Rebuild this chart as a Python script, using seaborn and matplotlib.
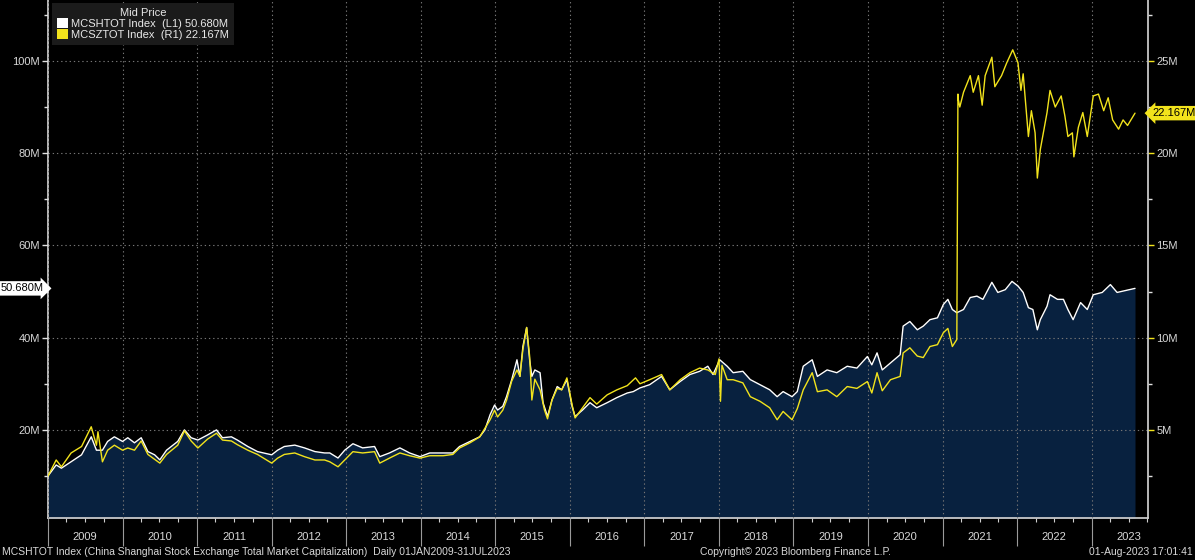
import matplotlib

matplotlib.use("Agg")
import matplotlib.pyplot as plt
import matplotlib.dates as mdates
from matplotlib.patches import Patch
from matplotlib.ticker import MultipleLocator, FuncFormatter, NullFormatter
import numpy as np
import pandas as pd
import seaborn as sns

# Shanghai total market cap (left axis, millions) - decimal year / value
sh_t = [2009.00, 2009.11, 2009.18, 2009.31, 2009.45, 2009.58, 2009.65, 2009.73, 2009.80, 2009.89,
        2010.00, 2010.07, 2010.16, 2010.25, 2010.34, 2010.43, 2010.50, 2010.59, 2010.74, 2010.83,
        2010.92, 2011.01, 2011.14, 2011.26, 2011.34, 2011.46, 2011.54, 2011.68, 2011.81, 2012.00,
        2012.08, 2012.17, 2012.31, 2012.44, 2012.58, 2012.71, 2012.78, 2012.89, 2012.98, 2013.09,
        2013.22, 2013.38, 2013.45, 2013.58, 2013.72, 2013.85, 2013.99, 2014.12, 2014.30, 2014.43,
        2014.52, 2014.66, 2014.79, 2014.86, 2014.93, 2014.99, 2015.03, 2015.10, 2015.15, 2015.22,
        2015.29, 2015.33, 2015.37, 2015.42, 2015.46, 2015.49, 2015.53, 2015.60, 2015.64, 2015.70,
        2015.76, 2015.83, 2015.89, 2015.96, 2016.03, 2016.07, 2016.17, 2016.27, 2016.36, 2016.50,
        2016.63, 2016.77, 2016.85, 2016.94, 2017.07, 2017.23, 2017.34, 2017.48, 2017.61, 2017.74,
        2017.85, 2017.92, 2018.01, 2018.11, 2018.19, 2018.32, 2018.42, 2018.55, 2018.68, 2018.78,
        2018.86, 2018.98, 2019.05, 2019.13, 2019.25, 2019.32, 2019.45, 2019.58, 2019.72, 2019.85,
        2019.99, 2020.05, 2020.12, 2020.19, 2020.30, 2020.43, 2020.47, 2020.56, 2020.66, 2020.74,
        2020.83, 2020.93, 2021.01, 2021.07, 2021.13, 2021.19, 2021.28, 2021.37, 2021.46, 2021.54,
        2021.66, 2021.74, 2021.84, 2021.93, 2022.01, 2022.08, 2022.15, 2022.21, 2022.27, 2022.31,
        2022.40, 2022.44, 2022.54, 2022.62, 2022.68, 2022.75, 2022.85, 2022.94, 2023.02, 2023.14,
        2023.25, 2023.34, 2023.42, 2023.58]
sh_val = [10.0, 12.4, 11.7, 13.1, 14.6, 18.5, 15.6, 15.6, 17.5, 18.5,
          17.5, 18.3, 17.2, 18.3, 15.3, 14.6, 13.5, 15.6, 17.5, 20.0,
          18.3, 17.8, 18.9, 20.0, 18.3, 18.5, 17.8, 16.4, 15.3, 14.6,
          15.6, 16.4, 16.7, 16.1, 15.3, 15.0, 15.0, 13.9, 15.6, 17.0,
          16.1, 16.4, 14.2, 15.0, 16.1, 15.0, 14.2, 15.0, 15.0, 15.0,
          16.4, 17.5, 18.5, 20.0, 23.3, 25.4, 24.3, 25.1, 27.2, 30.9,
          35.2, 31.6, 38.1, 42.2, 35.2, 31.6, 33.0, 32.4, 25.9, 22.9,
          26.5, 29.4, 28.7, 30.9, 25.1, 22.9, 24.3, 25.9, 24.8, 25.9,
          27.0, 28.0, 28.3, 29.1, 29.8, 31.6, 28.7, 30.5, 32.0, 32.7,
          33.8, 32.0, 35.2, 33.8, 32.4, 32.7, 30.9, 29.8, 28.7, 27.2,
          28.3, 27.2, 28.3, 33.8, 35.2, 31.6, 33.0, 32.4, 33.8, 33.4,
          35.9, 34.1, 36.7, 33.0, 34.5, 36.3, 42.5, 43.5, 41.7, 42.5,
          43.9, 44.3, 47.2, 48.3, 46.1, 45.4, 46.1, 48.7, 49.0, 48.3,
          52.0, 49.8, 50.4, 52.2, 51.2, 49.8, 46.5, 46.1, 41.7, 43.9,
          46.8, 49.3, 48.3, 48.3, 46.1, 43.9, 47.6, 46.1, 49.3, 49.8,
          51.5, 49.8, 50.1, 50.68]

# Shenzhen total market cap (right axis, millions)
sz_t = [2009.00, 2009.11, 2009.18, 2009.31, 2009.45, 2009.58, 2009.65, 2009.67, 2009.73, 2009.80,
        2009.89, 2010.00, 2010.07, 2010.16, 2010.25, 2010.34, 2010.50, 2010.59, 2010.74, 2010.83,
        2010.92, 2011.01, 2011.14, 2011.26, 2011.34, 2011.46, 2011.54, 2011.68, 2011.81, 2012.00,
        2012.08, 2012.17, 2012.31, 2012.44, 2012.58, 2012.71, 2012.78, 2012.89, 2013.09, 2013.22,
        2013.38, 2013.45, 2013.58, 2013.72, 2013.85, 2013.99, 2014.12, 2014.30, 2014.43, 2014.52,
        2014.66, 2014.79, 2014.93, 2014.99, 2015.03, 2015.10, 2015.15, 2015.22, 2015.29, 2015.33,
        2015.37, 2015.42, 2015.46, 2015.49, 2015.53, 2015.60, 2015.66, 2015.70, 2015.76, 2015.83,
        2015.89, 2015.96, 2016.03, 2016.07, 2016.17, 2016.27, 2016.36, 2016.50, 2016.63, 2016.77,
        2016.88, 2016.94, 2017.07, 2017.23, 2017.34, 2017.48, 2017.61, 2017.74, 2017.85, 2017.95,
        2018.00, 2018.02, 2018.04, 2018.11, 2018.19, 2018.32, 2018.42, 2018.55, 2018.68, 2018.78,
        2018.86, 2018.98, 2019.05, 2019.13, 2019.25, 2019.32, 2019.45, 2019.58, 2019.72, 2019.85,
        2019.99, 2020.05, 2020.12, 2020.19, 2020.30, 2020.43, 2020.47, 2020.56, 2020.66, 2020.74,
        2020.83, 2020.93, 2021.01, 2021.07, 2021.13, 2021.19, 2021.205, 2021.21, 2021.23, 2021.28,
        2021.37, 2021.41, 2021.48, 2021.53, 2021.57, 2021.66, 2021.70, 2021.79, 2021.86, 2021.94,
        2022.01, 2022.05, 2022.08, 2022.15, 2022.19, 2022.24, 2022.27, 2022.31, 2022.40, 2022.44,
        2022.51, 2022.59, 2022.64, 2022.68, 2022.74, 2022.76, 2022.82, 2022.88, 2022.94, 2023.02,
        2023.09, 2023.16, 2023.22, 2023.28, 2023.36, 2023.42, 2023.48, 2023.58]
sz_val = [2.50, 3.37, 3.00, 3.75, 4.10, 5.17, 4.17, 4.90, 3.27, 3.90,
          4.17, 3.90, 4.02, 3.90, 4.40, 3.67, 3.20, 3.67, 4.17, 4.95,
          4.40, 4.02, 4.50, 4.82, 4.45, 4.40, 4.20, 3.90, 3.67, 3.20,
          3.47, 3.67, 3.75, 3.55, 3.37, 3.37, 3.27, 3.00, 3.82, 3.75,
          3.82, 3.20, 3.47, 3.75, 3.60, 3.47, 3.60, 3.60, 3.67, 4.02,
          4.30, 4.62, 5.55, 6.07, 5.70, 6.07, 6.60, 7.65, 8.25, 7.90,
          9.37, 10.55, 9.00, 6.62, 7.75, 7.17, 6.07, 5.60, 6.62, 7.25,
          7.17, 7.82, 6.35, 5.65, 6.20, 6.75, 6.40, 6.90, 7.17, 7.40,
          7.82, 7.50, 7.72, 8.00, 7.17, 7.72, 8.10, 8.35, 8.25, 8.00,
          8.85, 6.55, 8.50, 7.72, 7.72, 7.55, 6.80, 6.55, 6.20, 5.55,
          6.00, 5.55, 6.15, 7.17, 8.10, 7.07, 7.17, 6.80, 7.35, 7.25,
          7.62, 7.00, 8.10, 7.12, 7.72, 7.90, 9.17, 9.45, 9.00, 8.92,
          9.52, 9.62, 10.27, 10.50, 9.52, 9.90, 23.20, 22.90, 22.50, 23.30,
          24.20, 23.30, 24.20, 22.60, 24.20, 25.20, 23.60, 24.20, 24.90, 25.60,
          24.90, 23.40, 24.30, 20.90, 22.30, 21.10, 18.65, 20.20, 22.20, 23.40,
          22.50, 23.10, 22.00, 20.90, 21.10, 19.80, 21.40, 22.20, 20.90, 23.10,
          23.20, 22.30, 23.00, 21.80, 21.30, 21.80, 21.50, 22.167]

left_ticks = [20, 40, 60, 80, 100]
right_ticks = [5, 10, 15, 20, 25]
years = list(range(2009, 2024))

BG = "black"
FILL = "#08213f"
YELLOW = "#f2e31c"
TXT = "#d8d8d8"
GRID = "#767676"


def to_dates(t):
    t = np.asarray(t, dtype=float)
    return pd.Timestamp("2009-01-01") + pd.to_timedelta((t - 2009.0) * 365.25, unit="D")


sns.set_theme(style="ticks")
plt.rcParams["font.family"] = ["Liberation Sans", "DejaVu Sans"]

sh = pd.DataFrame({"date": to_dates(sh_t), "value": sh_val})
sz = pd.DataFrame({"date": to_dates(sz_t), "value": sz_val})

fig, ax = plt.subplots(figsize=(11.95, 5.6), dpi=100)
fig.patch.set_facecolor(BG)
ax.set_facecolor(BG)
fig.subplots_adjust(left=48 / 1195, right=1148 / 1195, bottom=42 / 560, top=1.0)

ax.fill_between(sh["date"], 0, sh["value"], color=FILL, linewidth=0, zorder=1)
sns.lineplot(data=sh, x="date", y="value", ax=ax, color="white", linewidth=1.0, zorder=3)

ax2 = ax.twinx()
sns.lineplot(data=sz, x="date", y="value", ax=ax2, color=YELLOW, linewidth=1.0)

ax.set_xlim(pd.Timestamp("2009-01-01"), pd.Timestamp("2023-10-04"))
ax.set_ylim(0.9, 113.2)
ax2.set_ylim(0.9 / 4, 113.2 / 4)

for a in (ax, ax2):
    a.set_xlabel("")
    a.set_ylabel("")
    for s in a.spines.values():
        s.set_visible(False)

ax.spines["left"].set_visible(True)
ax.spines["left"].set_color("#cfcfcf")
ax.spines["bottom"].set_visible(True)
ax.spines["bottom"].set_color("#cfcfcf")
ax2.spines["right"].set_visible(True)
ax2.spines["right"].set_color("#cfcfcf")

# y axes
ax.set_yticks(left_ticks)
ax.yaxis.set_minor_locator(MultipleLocator(10))
ax.yaxis.set_major_formatter(FuncFormatter(lambda v, p: f"{v:.0f}M"))
ax.tick_params(axis="y", which="major", colors="#e0e0e0", labelcolor=TXT, labelsize=8,
               length=4, width=1, direction="out", pad=2)
ax.tick_params(axis="y", which="minor", colors="#e0e0e0", length=3, width=1)
ax2.set_yticks(right_ticks)
ax2.yaxis.set_minor_locator(MultipleLocator(2.5))
ax2.yaxis.set_major_formatter(FuncFormatter(lambda v, p: f"{v:.0f}M"))
ax2.tick_params(axis="y", which="major", colors=YELLOW, labelcolor=TXT, labelsize=8,
                length=4, width=1, direction="out", pad=2)
ax2.tick_params(axis="y", which="minor", colors="#e0e0e0", length=3, width=1)

# x axis: long year separators, quarterly small ticks, year names mid-year
ax.xaxis.set_major_locator(mdates.YearLocator())
ax.xaxis.set_minor_locator(mdates.MonthLocator(bymonth=[4, 7, 10]))
ax.xaxis.set_major_formatter(NullFormatter())
ax.xaxis.set_minor_formatter(NullFormatter())
ax.tick_params(axis="x", which="major", colors="#9a9a9a", length=20, width=0.8)
ax.tick_params(axis="x", which="minor", colors="#cfcfcf", length=3, width=0.8)
xt = ax.get_xaxis_transform()
for y in years:
    ax.text(pd.Timestamp(f"{y}-07-01"), -0.037, str(y), transform=xt, ha="center", va="center",
            color=TXT, fontsize=8)

ax.grid(True, which="major", axis="both", color=GRID, linestyle=(0, (1.2, 2.6)), linewidth=0.8)
ax.set_axisbelow(False)

# last value tags
ax.text(-0.004, sh_val[-1], f"{sh_val[-1]:.3f}M", transform=ax.get_yaxis_transform(),
        ha="right", va="center", fontsize=8, color="black",
        bbox=dict(boxstyle="rarrow,pad=0.2", fc="white", ec="none"))
ax2.text(1.004, sz_val[-1], f"{sz_val[-1]:.3f}M", transform=ax2.get_yaxis_transform(),
         ha="left", va="center", fontsize=8, color="black",
         bbox=dict(boxstyle="larrow,pad=0.2", fc=YELLOW, ec="none"))

handles = [Patch(facecolor="white", edgecolor="none"), Patch(facecolor=YELLOW, edgecolor="none")]
labels = [f"MCSHTOT Index  (L1) {sh_val[-1]:.3f}M", f"MCSZTOT Index  (R1) {sz_val[-1]:.3f}M"]
leg = ax2.legend(handles, labels, title="Mid Price", loc="upper left", bbox_to_anchor=(0.0035, 0.995),
                 frameon=True, fancybox=False, facecolor="#1b1b1b", edgecolor="none", framealpha=1,
                 fontsize=8, title_fontsize=8, labelcolor="#e8e8e8", handlelength=1.0,
                 handleheight=1.0, handletextpad=0.3, borderpad=0.45, labelspacing=0.05,
                 borderaxespad=0)
leg.get_title().set_color("#e8e8e8")

fig.text(2 / 1195, 8 / 560, "MCSHTOT Index (China Shanghai Stock Exchange Total Market Capitalization)  "
         "Daily 01JAN2009-31JUL2023", color=TXT, fontsize=7.5, va="center", ha="left")
fig.text(700 / 1195, 8 / 560, "Copyright\u00a9 2023 Bloomberg Finance L.P.", color=TXT, fontsize=7.5,
         va="center", ha="left")
fig.text(1193 / 1195, 8 / 560, "01-Aug-2023 17:01:41", color=TXT, fontsize=7.5, va="center", ha="right")

fig.savefig("out.png", dpi=100, facecolor=BG)
